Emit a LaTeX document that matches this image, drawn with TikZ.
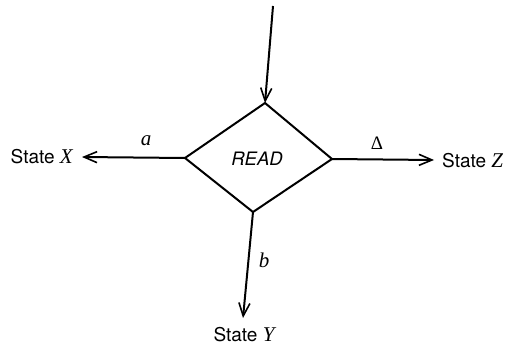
\documentclass[tikz,border=0pt]{standalone}
\usepackage{fontspec}
\setmainfont{TeX Gyre Heros}
\newfontfamily\lmr{Liberation Serif}
\newcommand{\vi}[1]{{\lmr\itshape\fontsize{21}{24}\selectfont #1}}
\usetikzlibrary{arrows.meta}
\tikzset{
  ln/.style={line width=2pt, line join=miter},
  arr/.style={ln, -{Straight Barb[length=13pt,width=11pt,line width=1.6pt]}},
  txt/.style={font=\fontsize{19}{22}\selectfont, inner sep=0pt},
  rd/.style={font=\fontsize{18.5}{22}\selectfont\itshape, inner sep=0pt}
}
\begin{document}
\begin{tikzpicture}[x=1pt,y=-1pt]
\useasboundingbox (0,0) rectangle (508,345);
% diamond corners
\coordinate (T) at (265,103);
\coordinate (L) at (185,158);
\coordinate (R) at (332,159);
\coordinate (B) at (253,212);
\draw[ln] (T) -- (R) -- (B) -- (L) -- cycle;
\node[rd] (read) at (257,159) {READ};
% incoming
\coordinate (start) at (273,6);
\draw[arr] (start) -- (T);
% state nodes
\node[txt, anchor=east] (sx) at (73,157) {State \vi{X}};
\node[txt, anchor=west] (sz) at (442,161) {State \vi{Z}};
\node[txt] (sy) at (244,335) {State \vi{Y}};
\coordinate (xt) at (82,157);
\coordinate (zt) at (434,160);
\coordinate (yt) at (243,318);
\draw[arr] (L) -- (xt);
\draw[arr] (R) -- (zt);
\draw[arr] (B) -- (yt);
% labels
\node[txt] (la) at (146,141) {\vi{a}};
\node[txt] (ld) at (377,143) {{\lmr\fontsize{19}{22}\selectfont Δ}};
\node[txt] (lb) at (264,260) {\vi{b}};
\end{tikzpicture}
\end{document}
